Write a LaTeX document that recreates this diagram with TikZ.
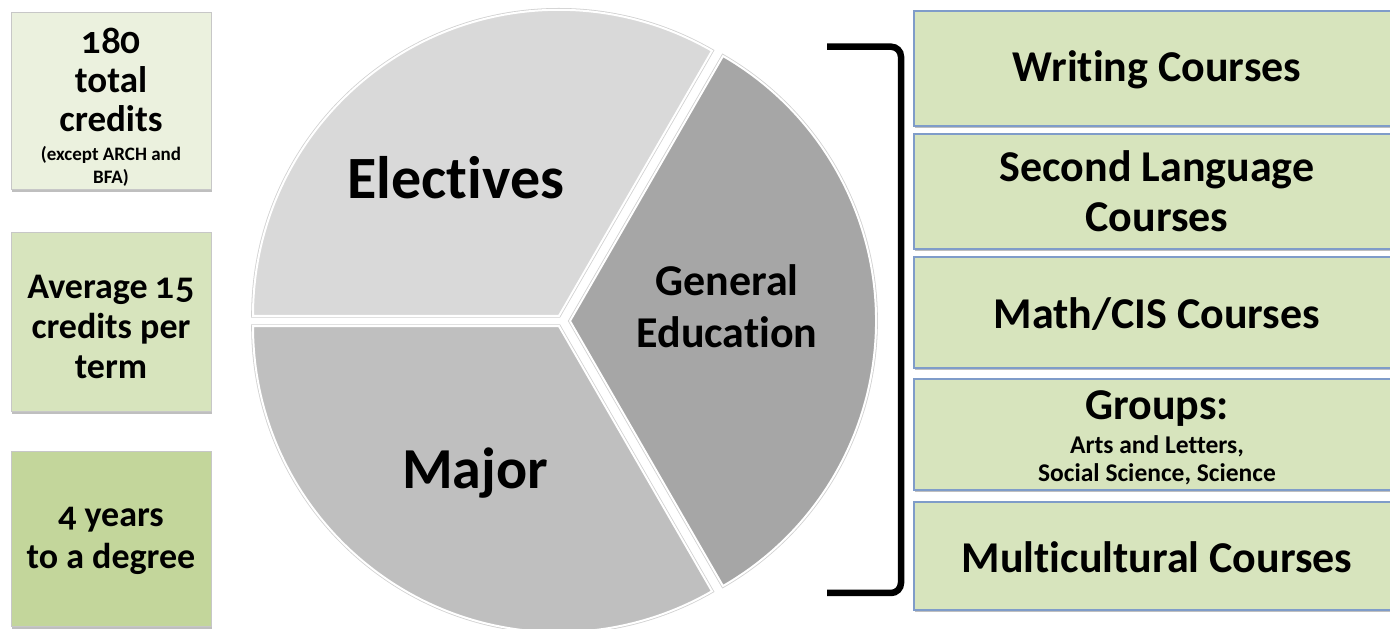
\documentclass[tikz,border=0pt]{standalone}
\usepackage{fontspec}
\setmainfont{Carlito}[Numbers=OldStyle, Ligatures=CommonOff]
\newfontfamily\numfont{Lato}[Numbers=OldStyle]
\usetikzlibrary{shadows}
\definecolor{gA}{HTML}{EBF1DE}
\definecolor{gB}{HTML}{D7E4BD}
\definecolor{gC}{HTML}{C3D69B}
\definecolor{bdr}{HTML}{7F9CC9}
\definecolor{sE}{HTML}{D9D9D9}
\definecolor{sM}{HTML}{BFBFBF}
\definecolor{sG}{HTML}{A6A6A6}
\begin{document}
\begin{tikzpicture}[x=1pt,y=1pt,
  shadowed/.style={drop shadow={shadow xshift=1pt, shadow yshift=-2.5pt, opacity=0.25, fill=black}},
  leftbox/.style={shadowed, draw=black!22, line width=1, inner sep=0, minimum width=200pt},
  rightbox/.style={shadowed, draw=bdr, line width=1.5, fill=gB, inner sep=0, minimum width=486pt},
  slice/.style={draw=white, line width=2, preaction={draw=black!18, line width=3.6}},
  lefttxt/.style={font=\bfseries\fontsize{36}{40}\selectfont, align=center},
  righttxt/.style={font=\bfseries\fontsize{44}{50}\selectfont, align=center},
  smalltxt/.style={font=\bfseries\fontsize{19}{23}\selectfont, align=center},
  grouptxt/.style={font=\bfseries\fontsize{25.5}{28}\selectfont, align=center},
  brace/.style={line width=6.5, rounded corners=10, line cap=butt}
]
\clip (0,0) rectangle (1390,629);
\fill[white] (0,0) rectangle (1390,629);

% left boxes
\node[leftbox, fill=gA, minimum height=177pt] (b1) at (111,527.5) {};
\node[lefttxt, font=\bfseries\fontsize{37}{39}\selectfont] (b1t) at (111,549) {{\numfont 180}\\total\\credits};
\node[smalltxt] (b1s) at (111,463) {(except ARCH and\\BFA)};
\node[leftbox, fill=gB, minimum height=179pt] (b2) at (111,306.5) {};
\node[lefttxt] (b2t) at (111,302) {Average {\numfont 15}\\credits per\\term};
\node[leftbox, fill=gC, minimum height=175pt] (b3) at (111,89.5) {};
\node[lefttxt, font=\bfseries\fontsize{36}{42}\selectfont] (b3t) at (111,88) {4 years\\to a degree};

% pie
\coordinate (E0) at (559,313.2);
\coordinate (M0) at (559,302.8);
\coordinate (G0) at (570,308);
\path[slice, fill=sE] (E0) -- ++(180:306) arc[start angle=180, end angle=60, radius=306] -- cycle;
\path[slice, fill=sM] (M0) -- ++(180:306) arc[start angle=180, end angle=300, radius=306] -- cycle;
\path[slice, fill=sG] (G0) -- ++(-60:306) arc[start angle=-60, end angle=60, radius=306] -- cycle;
\node[font=\bfseries\fontsize{60}{66}\selectfont] (el) at (456,451) {Electives};
\node[font=\bfseries\fontsize{58}{64}\selectfont] (ma) at (475,156) {Major};
\node[font=\bfseries\fontsize{44}{52}\selectfont, align=center] (ge) at (727,323) {General\\Education};

% bracket
\coordinate (bt) at (827,582.3);
\coordinate (bb) at (827,36);
\draw[brace] (bt) -- (901,582.3) -- (901,36) -- (bb);

% right boxes
\node[rightbox, minimum height=115pt] (r1) at (1157,560.5) {};
\node[righttxt] (r1t) at (1157,559) {Writing Courses};
\node[rightbox, minimum height=115pt] (r2) at (1157,437.5) {};
\node[righttxt] (r2t) at (1157,438) {Second Language\\Courses};
\node[rightbox, minimum height=111pt] (r3) at (1157,316.5) {};
\node[righttxt] (r3t) at (1157,315) {Math/CIS Courses};
\node[rightbox, minimum height=111pt] (r4) at (1157,194.5) {};
\node[righttxt] (r4t) at (1157,220) {Groups:};
\node[grouptxt] (r4s) at (1157,169) {Arts and Letters,\\Social Science, Science};
\node[rightbox, minimum height=108pt] (r5) at (1157,73) {};
\node[righttxt] (r5t) at (1157,72) {Multicultural Courses};
\end{tikzpicture}
\end{document}
